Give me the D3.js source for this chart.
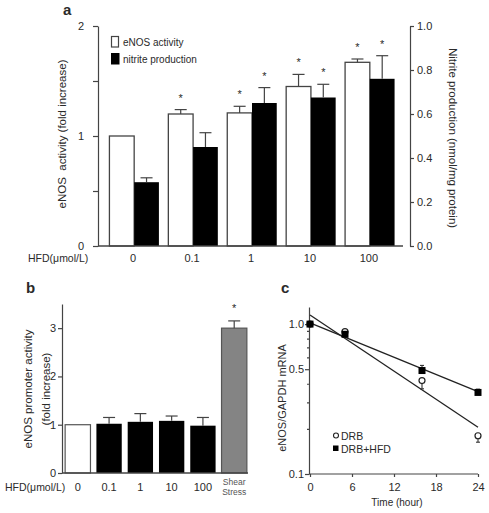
<!DOCTYPE html>
<html><head><meta charset="utf-8">
<script src="https://cdn.jsdelivr.net/npm/d3@7"></script>
<style>
body{margin:0;background:#fff;}
svg{font-family:"Liberation Sans",Arial,sans-serif;}
text{fill:#2a2a2a;}
</style></head>
<body><svg id="chart" width="489" height="513"></svg>
<script>
// ---------- Panel a data ----------
const aCategories = ["0","0.1","1","10","100"];
const aSeries = ["eNOS activity","nitrite production"];
const eNOSActivity = [1.0, 1.20, 1.21, 1.45, 1.67];
const eNOSErr =      [1.0, 1.24, 1.27, 1.56, 1.70];
const nitrite =      [0.29, 0.45, 0.65, 0.675, 0.76];
const nitriteErr =   [0.31, 0.515, 0.72, 0.735, 0.865];
const eNOSSig = [false,true,true,true,true];
const nitriteSig = [false,false,true,true,true];
const aLeftTicks = [0,0.5,1,1.5,2];
const aRightTicks = [0,0.2,0.4,0.6,0.8,1.0];

// ---------- Panel b data ----------
const bCategories = ["0","0.1","1","10","100","Shear Stress"];
const promoter =    [1.0, 1.02, 1.06, 1.08, 0.98, 3.0];
const promoterErr = [1.0, 1.15, 1.23, 1.18, 1.15, 3.15];
const promoterSig = [false,false,false,false,false,true];
const bTicks = [0,1,2,3];

// ---------- Panel c data ----------
const cTimes = [0,5,16,24];
const drb =        [1.0, 0.89, 0.42, 0.18];
const drbErrLow =  [1.0, 0.87, 0.37, 0.163];
const drbHfd =     [1.0, 0.855, 0.49, 0.35];
const drbHfdErrHi =[1.0, 0.88, 0.53, 0.368];
const fitTimes = [0,24];
const drbFit = [1.15, 0.205];
const drbHfdFit = [1.02, 0.354];
const cXTicks = [0,6,12,18,24];
const cYTicks = [0.1,0.2,0.3,0.4,0.5,0.6,0.7,0.8,0.9,1.0];
const cYLabeled = [0.1,0.5,1.0];

const svg = d3.select("#chart");
const axisCol = "#444";
const fs = 11;

function styleAxis(g){
  g.selectAll("path,line").attr("stroke",axisCol).attr("stroke-width",1.2);
  g.selectAll("text").attr("fill","#2a2a2a").style("font-size",fs+"px").style("font-family","'Liberation Sans',Arial,sans-serif");
}

// ================= PANEL A =================
{
  const yL = d3.scaleLinear().domain([0,2]).range([246,26]);
  const yR = d3.scaleLinear().domain([0,1]).range([246,26]);
  const x0 = d3.scaleBand().domain(aCategories).range([100,404]).paddingInner(0.16).paddingOuter(0.16);
  const x1 = d3.scaleBand().domain(aSeries).range([0,x0.bandwidth()]);
  const g = svg.append("g");

  aCategories.forEach((c,i)=>{
    const xw = x0(c)+x1(aSeries[0]);
    const xb = x0(c)+x1(aSeries[1]);
    const bw = x1.bandwidth();
    g.append("rect").attr("x",xw).attr("y",yL(eNOSActivity[i])).attr("width",bw)
      .attr("height",yL(0)-yL(eNOSActivity[i])).attr("fill","#fff").attr("stroke","#444").attr("stroke-width",1.3);
    g.append("rect").attr("x",xb).attr("y",yR(nitrite[i])).attr("width",bw)
      .attr("height",yR(0)-yR(nitrite[i])).attr("fill","#000");
    const cw = xw+bw/2, cb = xb+bw/2;
    if(eNOSErr[i]>eNOSActivity[i]){
      g.append("line").attr("x1",cw).attr("x2",cw).attr("y1",yL(eNOSActivity[i])).attr("y2",yL(eNOSErr[i])).attr("stroke","#444").attr("stroke-width",1.2);
      g.append("line").attr("x1",cw-6).attr("x2",cw+6).attr("y1",yL(eNOSErr[i])).attr("y2",yL(eNOSErr[i])).attr("stroke","#444").attr("stroke-width",1.2);
    }
    g.append("line").attr("x1",cb).attr("x2",cb).attr("y1",yR(nitrite[i])).attr("y2",yR(nitriteErr[i])).attr("stroke","#444").attr("stroke-width",1.2);
    g.append("line").attr("x1",cb-6).attr("x2",cb+6).attr("y1",yR(nitriteErr[i])).attr("y2",yR(nitriteErr[i])).attr("stroke","#444").attr("stroke-width",1.2);
    if(eNOSSig[i]) g.append("text").attr("x",cw).attr("y",yL(eNOSErr[i])-8).attr("text-anchor","middle").style("font-size","11px").text("*");
    if(nitriteSig[i]) g.append("text").attr("x",cb).attr("y",yR(nitriteErr[i])-8).attr("text-anchor","middle").style("font-size","11px").text("*");
  });

  g.append("line").attr("x1",98).attr("x2",403).attr("y1",yL(0)).attr("y2",yL(0)).attr("stroke",axisCol).attr("stroke-width",1.3);

  const la = g.append("g").attr("transform","translate(98,0)")
    .call(d3.axisLeft(yL).tickValues(aLeftTicks).tickSize(5).tickSizeOuter(0).tickPadding(9)
      .tickFormat(d=>Number.isInteger(d)?d3.format("d")(d):""));
  styleAxis(la);
  const ra = g.append("g").attr("transform","translate(410,0)")
    .call(d3.axisRight(yR).tickValues(aRightTicks).tickSize(4).tickSizeOuter(0).tickPadding(3).tickFormat(d3.format(".1f")));
  styleAxis(ra);

  aCategories.forEach(c=>{
    g.append("text").attr("x",x0(c)+x0.bandwidth()/2-1).attr("y",262).attr("text-anchor","middle").style("font-size","11px").text(c);
  });
  g.append("text").attr("x",28).attr("y",262).style("font-size","10.5px").text("HFD(μmol/L)");

  g.append("text").attr("transform","translate(66,134) rotate(-90)").attr("text-anchor","middle").style("font-size","11.5px").text("eNOS  activity (fold increase)").attr("xml:space","preserve");
  g.append("text").attr("transform","translate(449,138) rotate(90)").attr("text-anchor","middle").style("font-size","11.5px").text("Nitrite production (nmol/mg protein)");

  g.append("rect").attr("x",111.5).attr("y",36.5).attr("width",7).attr("height",10.5).attr("fill","#fff").attr("stroke","#444").attr("stroke-width",1.2);
  g.append("rect").attr("x",111).attr("y",53).attr("width",8.5).attr("height",11.5).attr("fill","#000");
  g.append("text").attr("x",123).attr("y",45.5).style("font-size","10px").text(aSeries[0]);
  g.append("text").attr("x",123).attr("y",62.5).style("font-size","10px").text(aSeries[1]);

  g.append("text").attr("x",63).attr("y",15).style("font-size","15px").style("font-weight","bold").text("a");
}

// ================= PANEL B =================
{
  const y = d3.scaleLinear().domain([0,3.5]).range([473,304]);
  const x = d3.scaleBand().domain(bCategories).range([62,250]).paddingInner(0.19).paddingOuter(0.1);
  const g = svg.append("g");
  bCategories.forEach((c,i)=>{
    const fill = i===0 ? "#fff" : (i===bCategories.length-1 ? "#848484" : "#000");
    const stroke = i===0 ? "#555" : (i===bCategories.length-1 ? "#555" : "none");
    g.append("rect").attr("x",x(c)).attr("y",y(promoter[i])).attr("width",x.bandwidth())
      .attr("height",y(0)-y(promoter[i])).attr("fill",fill).attr("stroke",stroke).attr("stroke-width",1.2);
    const cx = x(c)+x.bandwidth()/2;
    if(promoterErr[i]>promoter[i]){
      g.append("line").attr("x1",cx).attr("x2",cx).attr("y1",y(promoter[i])).attr("y2",y(promoterErr[i])).attr("stroke","#444").attr("stroke-width",1.2);
      g.append("line").attr("x1",cx-6).attr("x2",cx+6).attr("y1",y(promoterErr[i])).attr("y2",y(promoterErr[i])).attr("stroke","#444").attr("stroke-width",1.2);
    }
    if(promoterSig[i]) g.append("text").attr("x",cx).attr("y",y(promoterErr[i])-9).attr("text-anchor","middle").style("font-size","11px").text("*");
  });
  g.append("line").attr("x1",62).attr("x2",248).attr("y1",y(0)).attr("y2",y(0)).attr("stroke",axisCol).attr("stroke-width",1.3);
  const la = g.append("g").attr("transform","translate(62,0)")
    .call(d3.axisLeft(y).tickValues(bTicks).tickSize(4).tickSizeOuter(0).tickPadding(2).tickFormat(d3.format("d")));
  styleAxis(la);
  bCategories.forEach((c,i)=>{
    const cx = x(c)+x.bandwidth()/2;
    if(i===bCategories.length-1){
      const parts = c.split(" ");
      g.append("text").attr("x",cx).attr("y",485).attr("text-anchor","middle").style("font-size","8.5px").style("fill","#555").text(parts[0]);
      g.append("text").attr("x",cx).attr("y",495).attr("text-anchor","middle").style("font-size","8.5px").style("fill","#555").text(parts[1]);
    } else {
      g.append("text").attr("x",cx).attr("y",491).attr("text-anchor","middle").style("font-size","11px").text(c);
    }
  });
  g.append("text").attr("x",5).attr("y",491).style("font-size","10.5px").text("HFD(μmol/L)");
  g.append("text").attr("transform","translate(32,389) rotate(-90)").attr("text-anchor","middle").style("font-size","11.5px").text("eNOS promoter activity");
  g.append("text").attr("transform","translate(50,389) rotate(-90)").attr("text-anchor","middle").style("font-size","11.5px").text("(fold increase)");
  g.append("text").attr("x",26).attr("y",293).style("font-size","15px").style("font-weight","bold").text("b");
}

// ================= PANEL C =================
{
  const x = d3.scaleLinear().domain([0,24]).range([310,478]);
  const y = d3.scaleLog().domain([0.1,1.3]).range([474,307]);
  const g = svg.append("g");

  const xa = g.append("g").attr("transform","translate(0,474)")
    .call(d3.axisBottom(x).tickValues(cXTicks).tickSize(3).tickSizeOuter(0).tickPadding(6).tickFormat(d3.format("d")));
  styleAxis(xa);
  xa.select(".domain").attr("d","M309,0H478");
  const ya = g.append("g").attr("transform","translate(309,0)")
    .call(d3.axisLeft(y).tickValues(cYTicks).tickSize(3).tickSizeOuter(0).tickPadding(2)
      .tickFormat(d=>cYLabeled.includes(d)?d3.format(".1f")(d):""));
  styleAxis(ya);
  ya.selectAll(".tick line").attr("x2",d=>cYLabeled.includes(d)?-4:-2);

  const line = d3.line().x((d,i)=>x(fitTimes[i])).y(d=>y(d));
  g.append("path").attr("d",line(drbFit)).attr("fill","none").attr("stroke","#222").attr("stroke-width",1.3);
  g.append("path").attr("d",line(drbHfdFit)).attr("fill","none").attr("stroke","#222").attr("stroke-width",1.3);

  cTimes.forEach((t,i)=>{
    if(drbErrLow[i]<drb[i]){
      g.append("line").attr("x1",x(t)).attr("x2",x(t)).attr("y1",y(drb[i])).attr("y2",y(drbErrLow[i])).attr("stroke","#333").attr("stroke-width",1.1);
      g.append("line").attr("x1",x(t)-2).attr("x2",x(t)+2).attr("y1",y(drbErrLow[i])).attr("y2",y(drbErrLow[i])).attr("stroke","#333").attr("stroke-width",1.1);
    }
    if(drbHfdErrHi[i]>drbHfd[i]){
      g.append("line").attr("x1",x(t)).attr("x2",x(t)).attr("y1",y(drbHfd[i])).attr("y2",y(drbHfdErrHi[i])).attr("stroke","#333").attr("stroke-width",1.1);
      g.append("line").attr("x1",x(t)-2).attr("x2",x(t)+2).attr("y1",y(drbHfdErrHi[i])).attr("y2",y(drbHfdErrHi[i])).attr("stroke","#333").attr("stroke-width",1.1);
    }
  });
  cTimes.forEach((t,i)=>{
    g.append("circle").attr("cx",x(t)).attr("cy",y(drb[i])).attr("r",3).attr("fill","#fff").attr("stroke","#222").attr("stroke-width",1.2);
  });
  cTimes.forEach((t,i)=>{
    g.append("rect").attr("x",x(t)-3.5).attr("y",y(drbHfd[i])-3.5).attr("width",7).attr("height",7).attr("fill","#000");
  });

  g.append("circle").attr("cx",336).attr("cy",435.5).attr("r",2.5).attr("fill","#fff").attr("stroke","#222").attr("stroke-width",1.1);
  g.append("text").attr("x",341).attr("y",439.5).style("font-size","10.5px").text("DRB");
  g.append("rect").attr("x",333).attr("y",445.5).attr("width",5.5).attr("height",5.5).attr("fill","#000");
  g.append("text").attr("x",341).attr("y",452.5).style("font-size","10.5px").text("DRB+HFD");

  g.append("text").attr("x",397).attr("y",506).attr("text-anchor","middle").style("font-size","10px").text("Time (hour)");
  g.append("text").attr("transform","translate(286,398) rotate(-90)").attr("text-anchor","middle").style("font-size","11px").text("eNOS/GAPDH mRNA");
  g.append("text").attr("x",281).attr("y",293).style("font-size","15px").style("font-weight","bold").text("c");
}
</script></body></html>
